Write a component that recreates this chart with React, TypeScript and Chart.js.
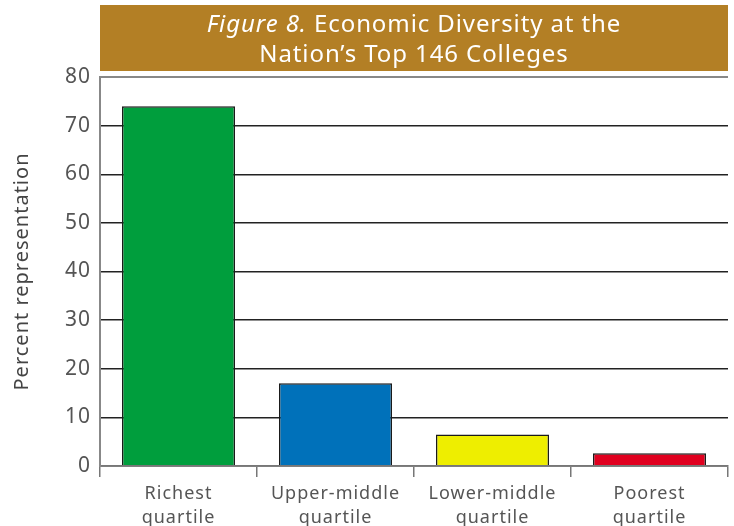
import React, { useEffect, useRef } from "react";
import { Chart, registerables } from "chart.js";

Chart.register(...registerables);

const categories: string[][] = [
  ["Richest", "quartile"],
  ["Upper-middle", "quartile"],
  ["Lower-middle", "quartile"],
  ["Poorest", "quartile"],
];
const values: number[] = [74, 17, 6.5, 2.6];
const barColors: string[] = ["#009E3D", "#0071BA", "#EEEE00", "#E0001F"];
const titleItalic = "Figure 8.";
const titleRest1 = " Economic Diversity at the";
const titleLine2 = "Nation\u2019s Top 146 Colleges";
const yTitle = "Percent representation";

const FONT = "'Noto Sans', 'Open Sans', sans-serif";

const spacing = {
  id: "spacing",
  beforeLayout(chart: any) {
    chart.ctx.letterSpacing = "1px";
  },
  beforeDraw(chart: any) {
    chart.ctx.letterSpacing = "1px";
  },
};

const titleBox = {
  id: "titleBox",
  beforeDraw(chart: any) {
    const { ctx, chartArea } = chart;
    ctx.save();
    ctx.letterSpacing = "0.9px";
    ctx.fillStyle = "#B37F25";
    ctx.fillRect(chartArea.left, 5, chartArea.right - chartArea.left, 66);
    ctx.fillStyle = "#FFFFFF";
    ctx.textBaseline = "middle";
    const cx = (chartArea.left + chartArea.right) / 2;
    const italicFont = `italic 24px ${FONT}`;
    const normalFont = `24px ${FONT}`;
    ctx.font = italicFont;
    const w1 = ctx.measureText(titleItalic).width;
    ctx.font = normalFont;
    const w2 = ctx.measureText(titleRest1).width;
    const x = cx - (w1 + w2) / 2;
    ctx.textAlign = "left";
    ctx.font = italicFont;
    ctx.fillText(titleItalic, x, 25);
    ctx.font = normalFont;
    ctx.fillText(titleRest1, x + w1, 25);
    ctx.textAlign = "center";
    ctx.fillText(titleLine2, cx, 55);
    ctx.restore();
  },
};

export default function App() {
  const ref = useRef<HTMLCanvasElement>(null);
  useEffect(() => {
    document.body.style.margin = "0";
    const chart = new Chart(ref.current as HTMLCanvasElement, {
      type: "bar",
      data: {
        labels: categories,
        datasets: [
          {
            data: values,
            backgroundColor: barColors,
            borderColor: "#1A1A1A",
            borderWidth: 1.5,
            categoryPercentage: 1,
            barPercentage: 0.72,
          },
        ],
      },
      options: {
        animation: false,
        responsive: false,
        layout: { padding: { top: 77, right: 6, left: 0, bottom: 0 } },
        plugins: {
          legend: { display: false },
          tooltip: { enabled: false },
          title: { display: false },
        },
        scales: {
          x: {
            grid: {
              offset: true,
              drawOnChartArea: false,
              drawTicks: true,
              tickLength: 11,
              color: "#777",
              lineWidth: 1.5,
            },
            border: { display: true, color: "#777", width: 1.5 },
            ticks: {
              color: "#555",
              font: { family: FONT, size: 18, lineHeight: 1.34 },
              padding: 5,
              maxRotation: 0,
              autoSkip: false,
            },
            afterFit(scale: any) {
              scale.height = 60;
            },
          },
          y: {
            min: 0,
            max: 80,
            ticks: {
              stepSize: 10,
              color: "#555",
              font: { family: FONT, size: 21 },
              padding: 9,
            },
            grid: {
              drawTicks: false,
              color: (c: any) =>
                c.tick && (c.tick.value === 80 || c.tick.value === 0) ? "#888" : "#222",
              lineWidth: (c: any) =>
                c.tick && (c.tick.value === 80 || c.tick.value === 0) ? 2 : 1.5,
            },
            border: { display: true, color: "#888", width: 2 },
            title: {
              display: true,
              text: yTitle,
              color: "#444",
              font: { family: FONT, size: 20 },
              padding: { top: 10, bottom: 8 },
            },
            afterFit(scale: any) {
              scale.width = 100;
            },
          },
        },
      },
      plugins: [spacing, titleBox],
    });
    return () => chart.destroy();
  }, []);
  return (
    <div style={{ width: 734, height: 526 }}>
      <canvas ref={ref} width={734} height={526} style={{ display: "block" }} />
    </div>
  );
}
